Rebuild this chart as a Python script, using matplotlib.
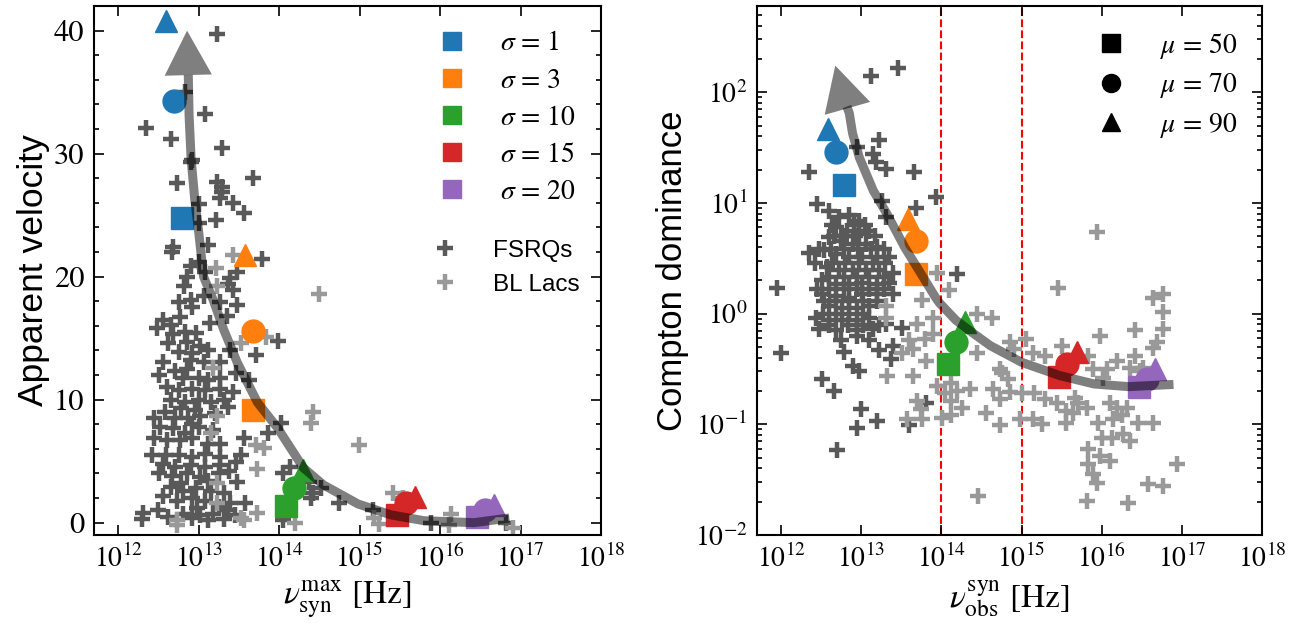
import numpy as np
import matplotlib
matplotlib.use("Agg")
from matplotlib import pyplot as plt
from matplotlib.lines import Line2D
from matplotlib.ticker import MultipleLocator, FixedLocator, NullLocator, LogFormatterSciNotation

plt.rcParams['font.family'] = 'serif'
plt.rcParams['font.serif'] = ['STIXGeneral', 'Liberation Serif', 'DejaVu Serif']
plt.rcParams['mathtext.fontset'] = 'stix'

# model points: log10(nu) for mu = 50 (square), 70 (circle), 90 (triangle), one per sigma
sigmas = [1, 3, 10, 15, 20]
sigma_colors = ['tab:blue', 'tab:orange', 'tab:green', 'tab:red', 'tab:purple']
mus = [50, 70, 90]
mu_markers = ['s', 'o', '^']

model_lognu = {
    50: [12.79, 13.68, 14.08, 15.47, 16.46],
    70: [12.69, 13.68, 14.18, 15.57, 16.56],
    90: [12.59, 13.58, 14.29, 15.69, 16.67],
}
model_vapp = {
    50: [24.8, 9.2, 1.36, 0.63, 0.44],
    70: [34.3, 15.6, 2.8, 1.63, 1.03],
    90: [40.8, 21.8, 4.3, 2.1, 1.44],
}
model_logcd = {
    50: [1.16, 0.36, -0.455, -0.576, -0.667],
    70: [1.46, 0.66, -0.26, -0.455, -0.59],
    90: [1.67, 0.857, -0.08, -0.35, -0.50],
}

# track of the model (tail -> head)
left_curve_lognu = [16.86, 16.42, 15.80, 15.39, 14.98, 14.55, 14.30, 13.98, 13.73, 13.48,
                    13.31, 13.18, 13.06, 13.00, 12.95, 12.905, 12.88, 12.87]
left_curve_v = [0.38, 0.0, 0.16, 0.63, 1.52, 3.07, 4.46, 7.7, 9.77, 13.0,
                15.7, 18.1, 20.0, 23.6, 26.3, 29.6, 33.1, 36.4]
left_tip = (12.855, 40.0)

right_curve_lognu = [16.895, 16.335, 15.905, 15.475, 15.0, 14.61, 14.40, 14.18, 13.97, 13.925,
                     13.54, 13.32, 13.15, 12.975, 12.89, 12.85, 12.82]
right_curve_logcd = [-0.64, -0.66, -0.636, -0.56, -0.44, -0.29, -0.18, -0.06, 0.10, 0.147,
                     0.60, 0.90, 1.11, 1.41, 1.63, 1.81, 1.87]
right_tip = (12.675, 2.24)

# observed sources, left panel (log10 nu_syn^max, apparent velocity)
fsrq_l_lognu = [13.23, 12.83, 13.08, 12.34, 12.65, 13.29, 12.92, 12.90, 13.68, 12.73,
                13.23, 13.29, 13.29, 13.27, 13.43, 13.56, 13.00, 13.21, 13.00, 12.68,
                12.67, 13.11, 13.79, 12.90, 12.86, 13.48, 13.39, 13.36, 13.43, 13.08,
                12.75, 12.90, 13.06, 13.27, 13.48, 12.92, 12.56, 12.77, 12.65, 12.83,
                12.96, 12.68, 12.62, 12.86, 13.02, 12.75, 12.92, 13.11, 13.39, 13.71,
                13.99, 12.55, 12.90, 13.06, 13.27, 12.81, 13.00, 13.11, 13.27, 13.46,
                13.62, 12.75, 12.92, 13.08, 13.27, 13.43, 12.65, 12.83, 13.00, 13.15,
                13.31, 13.36, 12.44, 12.71, 12.87, 13.02, 14.02, 13.86, 12.68, 12.83,
                13.00, 12.92, 12.44, 12.61, 12.77, 13.11, 13.27, 13.56, 12.42, 12.59,
                12.75, 12.92, 13.08, 13.27, 13.52, 12.55, 12.71, 12.90, 13.08, 13.27,
                13.46, 14.05, 12.67, 12.86, 13.02, 13.25, 13.48, 12.65, 12.80, 12.96,
                13.15, 13.31, 14.14, 14.42, 14.52, 14.37, 14.39, 12.73, 12.92, 13.08,
                13.39, 13.58, 12.31, 12.49, 12.30, 12.81, 13.02, 13.18, 13.36, 13.11,
                13.31, 14.05, 14.74, 15.16, 15.89, 16.82,
                12.50, 12.60, 12.70, 12.85, 12.58, 12.78, 12.95, 13.20, 12.52, 12.92,
                13.18, 12.50, 12.78, 13.12, 13.38, 12.55, 12.98, 13.25, 12.62, 12.92,
                13.45, 13.00, 12.82, 13.14, 13.35, 12.48]
fsrq_l_v = [39.7, 35.0, 33.2, 32.1, 31.2, 30.5, 29.5, 29.3, 28.0, 27.6,
            27.7, 27.3, 26.9, 26.4, 26.0, 25.2, 25.9, 24.6, 24.4, 22.4,
            22.0, 22.6, 21.4, 20.9, 20.0, 20.4, 19.9, 19.4, 18.9, 20.4,
            17.9, 18.1, 18.4, 17.9, 17.7, 17.5, 16.5, 16.7, 16.1, 15.5,
            15.4, 15.3, 14.6, 14.7, 14.4, 13.9, 13.8, 14.0, 14.0, 13.6,
            14.8, 13.1, 13.2, 13.1, 13.1, 11.8, 11.8, 11.6, 11.8, 12.2,
            11.6, 10.8, 10.9, 10.8, 10.9, 10.6, 10.0, 9.8, 10.0, 9.8,
            10.0, 9.4, 8.5, 8.5, 8.5, 8.7, 8.1, 7.3, 7.7, 7.3,
            7.8, 6.9, 6.9, 6.7, 6.7, 6.4, 6.4, 6.9, 5.5, 5.5,
            5.5, 5.3, 5.6, 5.3, 5.5, 4.8, 4.5, 4.7, 4.5, 4.7,
            4.9, 4.0, 3.8, 4.0, 3.7, 4.0, 3.3, 2.9, 2.6, 2.8,
            2.6, 2.4, 4.5, 2.4, 2.8, 3.3, 2.0, 1.8, 2.0, 1.8,
            1.6, 1.6, 0.8, 1.0, 0.3, 0.7, 0.6, 0.7, 1.0, 0.2,
            0.3, 0.2, 1.6, 1.0, 0.0, 0.0,
            12.0, 11.0, 12.3, 12.5, 9.0, 9.3, 9.2, 8.9, 7.8, 8.0,
            7.5, 4.0, 3.2, 3.4, 4.2, 2.2, 1.2, 1.3, 0.5, 0.4,
            0.6, 21.2, 19.2, 16.2, 16.8, 15.8]
bll_l_lognu = [13.42, 13.21, 13.23, 14.49, 13.83, 13.52, 13.18, 13.23, 14.42, 14.39,
               13.15, 13.71, 13.81, 14.99, 13.73, 13.23, 13.23, 13.52, 13.73, 12.73,
               13.56, 14.20, 12.73, 15.18, 15.24, 15.41, 15.54, 16.13, 16.11, 16.91]
bll_l_v = [21.8, 20.7, 19.2, 18.6, 15.1, 14.6, 12.6, 8.7, 9.0, 8.1,
           7.3, 6.3, 6.1, 6.3, 4.4, 3.2, 1.6, 0.4, 0.8, 0.2,
           0.2, 0.0, -0.2, 0.4, -0.1, 2.4, 2.0, 0.7, -0.2, -0.4]

# observed sources, right panel (log10 nu_obs^syn, log10 Compton dominance)
fsrq_r_lognu = [13.125, 13.46, 12.95, 13.14, 13.18, 13.31, 13.225, 12.35, 13.66, 13.93,
                12.45, 13.68, 13.26, 13.31, 14.19, 12.60, 12.725, 12.85, 12.975, 12.69,
                12.825, 12.975, 13.10, 12.60, 12.75, 12.89, 13.06, 13.19, 12.35, 12.54,
                12.69, 12.85, 13.01, 13.19, 13.35, 12.575, 12.725, 12.89, 13.06, 13.225,
                13.39, 12.51, 12.69, 12.85, 13.01, 13.19, 13.35, 12.51, 12.69, 12.85,
                13.01, 13.19, 13.39, 12.60, 12.76, 12.94, 13.10, 12.44, 12.60, 12.76,
                12.94, 13.10, 12.475, 12.69, 12.94, 13.14, 13.51, 11.95, 13.31, 12.75,
                12.94, 13.10, 13.225, 13.39, 12.79, 13.375, 12.89, 12.975, 12.0, 12.51,
                12.66, 13.0, 12.94, 13.2, 13.6, 13.81, 12.7,
                12.63, 12.91, 13.04, 12.66, 12.80, 12.92, 13.17, 12.47, 12.62, 12.78,
                12.96, 13.12, 13.28, 12.42, 12.64, 12.80, 12.97, 13.14, 13.30, 12.60,
                12.78, 12.94, 13.10, 13.28, 12.45, 12.60, 12.78, 12.94, 13.10, 13.28,
                12.54, 12.68, 12.85, 13.02, 13.19, 12.52, 12.68, 12.85, 13.02, 12.60,
                12.83, 13.02, 13.22]
fsrq_r_logcd = [2.145, 2.22, 1.505, 1.445, 1.37, 1.31, 1.565, 1.28, 1.28, 1.05,
                0.99, 0.95, 1.02, 0.87, 0.36, 0.93, 0.87, 0.89, 0.84, 0.78,
                0.75, 0.72, 0.75, 0.69, 0.66, 0.63, 0.63, 0.60, 0.55, 0.57,
                0.54, 0.51, 0.51, 0.51, 0.51, 0.42, 0.39, 0.39, 0.39, 0.39,
                0.37, 0.30, 0.27, 0.27, 0.28, 0.27, 0.28, 0.18, 0.16, 0.145,
                0.18, 0.18, 0.18, 0.07, 0.05, 0.05, 0.07, -0.04, -0.06, -0.06,
                -0.06, -0.04, -0.14, -0.15, -0.15, -0.14, -0.13, 0.235, -0.09, -0.24,
                -0.20, -0.24, -0.33, -0.29, -0.35, -0.41, -0.47, -0.52, -0.36, -0.59,
                -0.70, -0.86, -1.03, -0.97, -1.01, -0.81, -1.23,
                0.80, 0.80, 0.80, 0.70, 0.70, 0.70, 0.70, 0.58, 0.58, 0.58,
                0.58, 0.58, 0.58, 0.46, 0.46, 0.46, 0.46, 0.46, 0.46, 0.33,
                0.33, 0.33, 0.33, 0.33, 0.22, 0.22, 0.22, 0.22, 0.22, 0.22,
                0.11, 0.11, 0.11, 0.11, 0.11, 0.0, 0.0, 0.0, 0.0, -0.10,
                -0.10, -0.10, -0.10]
bll_r_lognu = [13.94, 14.10, 13.76, 13.89, 14.44, 14.625, 13.31, 13.31, 13.69, 13.325,
               13.64, 13.81, 13.51, 13.64, 13.60, 13.70, 13.75, 13.575, 13.76, 13.94,
               14.125, 14.04, 14.20, 14.35, 14.125, 14.26, 14.125, 14.01, 14.44, 14.725,
               14.64, 14.725, 14.56, 14.725, 13.79, 13.89, 14.45, 15.94, 15.45, 16.64,
               16.76, 16.76, 16.76, 16.41, 15.975, 15.06, 14.85, 14.91, 15.50, 16.69,
               16.64, 15.14, 15.29, 16.41, 15.825, 14.76, 14.825, 16.19, 16.06, 15.89,
               16.35, 16.475, 16.51, 16.01, 14.85, 15.01, 15.16, 15.29, 15.44, 15.66,
               15.70, 15.81, 15.56, 15.64, 16.10, 16.19, 16.31, 14.975, 15.14, 15.25,
               15.56, 15.95, 16.14, 16.25, 16.45, 16.64, 16.00, 16.125, 16.26, 16.35,
               15.825, 15.975, 16.10, 15.825, 15.89, 15.94, 16.94, 16.575, 16.76, 15.81,
               16.325]
bll_r_logcd = [0.37, 0.21, 0.12, -0.04, 0.0, -0.04, 0.07, -0.04, -0.09, -0.56,
               -0.56, -0.43, -0.36, -0.32, -0.24, -0.79, -0.86, -0.95, -0.95, -0.65,
               -0.63, -0.72, -0.70, -0.68, -0.79, -0.85, -0.92, -0.94, -0.36, -0.50,
               -0.68, -0.77, -0.90, -1.01, -0.23, -0.18, -1.65, 0.74, 0.235, 0.145,
               0.18, 0.01, -0.135, -0.15, -0.20, -0.23, -0.26, -0.32, -0.29, -0.26,
               -0.31, -0.36, -0.38, -0.38, -0.38, -0.54, -0.59, -0.43, -0.50, -0.50,
               -0.49, -0.52, -0.49, -0.58, -0.71, -0.72, -0.72, -0.77, -0.81, -0.76,
               -0.81, -0.85, -0.88, -0.90, -0.81, -0.85, -0.85, -0.95, -0.95, -0.995,
               -0.99, -0.99, -0.95, -0.92, -0.99, -0.99, -1.12, -1.12, -1.09, -1.15,
               -1.22, -1.29, -1.33, -1.36, -1.45, -1.53, -1.36, -1.54, -1.56, -1.69,
               -1.71]

decades = [1e12, 1e13, 1e14, 1e15, 1e16, 1e17, 1e18]

fsrq_color = '0.35'
bll_color = '0.6'
cross = dict(marker='+', ls='none', ms=11, mew=3.2)

fig = plt.figure(figsize=(13.1, 6.23), dpi=100)
ax1 = fig.add_axes([0.0718, 0.1413, 0.387, 0.849])
ax2 = fig.add_axes([0.5779, 0.1413, 0.3855, 0.849])


def draw_track(ax, lognu, yvals, tip, logy=False):
    x = 10 ** np.array(lognu)
    y = 10 ** np.array(yvals) if logy else np.array(yvals)
    ax.plot(x, y, c='k', alpha=0.5, lw=6.5, solid_capstyle='butt', zorder=5)
    tx = 10 ** tip[0]
    ty = 10 ** tip[1] if logy else tip[1]
    ax.annotate('', xy=(tx, ty), xytext=(x[-1], y[-1]),
                arrowprops=dict(arrowstyle='-|>,head_length=1.6,head_width=0.85',
                                mutation_scale=20, color='k', alpha=0.5, lw=0,
                                shrinkA=0, shrinkB=0), zorder=5)


# left panel
ax1.plot(10 ** np.array(fsrq_l_lognu), fsrq_l_v, c=fsrq_color, zorder=2, **cross)
ax1.plot(10 ** np.array(bll_l_lognu), bll_l_v, c=bll_color, zorder=2, **cross)
for mu, mk in zip(mus, mu_markers):
    for i, col in enumerate(sigma_colors):
        ax1.plot(10 ** model_lognu[mu][i], model_vapp[mu][i], marker=mk, c=col,
                 ms=16.5, ls='none', zorder=3)
draw_track(ax1, left_curve_lognu, left_curve_v, left_tip)

# right panel
ax2.plot(10 ** np.array(fsrq_r_lognu), 10 ** np.array(fsrq_r_logcd), c=fsrq_color, zorder=2, **cross)
ax2.plot(10 ** np.array(bll_r_lognu), 10 ** np.array(bll_r_logcd), c=bll_color, zorder=2, **cross)
for mu, mk in zip(mus, mu_markers):
    for i, col in enumerate(sigma_colors):
        ax2.plot(10 ** model_lognu[mu][i], 10 ** model_logcd[mu][i], marker=mk, c=col,
                 ms=16.5, ls='none', zorder=3)
draw_track(ax2, right_curve_lognu, right_curve_logcd, right_tip, logy=True)
ax2.axvline(1e14, c='red', ls='--', lw=1.5, zorder=1)
ax2.axvline(1e15, c='red', ls='--', lw=1.5, zorder=1)

for ax in (ax1, ax2):
    ax.set_xscale('log')
    ax.set_xlim(5e11, 1e18)
    ax.xaxis.set_major_locator(FixedLocator(decades))
    ax.xaxis.set_major_formatter(LogFormatterSciNotation())
    ax.xaxis.set_minor_locator(NullLocator())
    ax.tick_params(which='both', direction='in', top=True, right=True, labelsize=20, width=1.2)
    ax.tick_params(which='major', length=7, pad=7)
    ax.tick_params(which='minor', length=3.5)
    for s in ax.spines.values():
        s.set_linewidth(1.5)

ax1.set_ylim(-1, 42)
ax1.yaxis.set_major_locator(MultipleLocator(10))
ax1.yaxis.set_minor_locator(MultipleLocator(2))
ax1.tick_params(axis='y', labelsize=22)
ax2.set_yscale('log')
ax2.set_ylim(1e-2, 6e2)
ax2.yaxis.set_major_locator(FixedLocator([1e-2, 1e-1, 1e0, 1e1, 1e2]))

ax1.set_xlabel(r'$\nu_{\rm syn}^{\rm max}$ [Hz]', fontsize=24)
ax2.set_xlabel(r'$\nu_{\rm obs}^{\rm syn}$ [Hz]', fontsize=24)
ax1.set_ylabel('Apparent velocity', fontsize=25.5, family='Liberation Sans', labelpad=3)
ax2.set_ylabel('Compton dominance', fontsize=25, family='Liberation Sans')

# legends
sig_handles = [Line2D([], [], marker='s', ls='none', c=col, ms=13) for col in sigma_colors]
sig_labels = [r'$\sigma$ = %d' % s for s in sigmas]
leg1 = ax1.legend(sig_handles, sig_labels, loc='upper right', frameon=False, fontsize=20,
                  handletextpad=0.75, labelspacing=0.42)
ax1.add_artist(leg1)
src_handles = [Line2D([], [], c=fsrq_color, **cross), Line2D([], [], c=bll_color, **cross)]
ax1.legend(src_handles, ['FSRQs', 'BL Lacs'], loc='upper right', bbox_to_anchor=(1.0, 0.60),
           frameon=False, prop={'family': 'Liberation Sans', 'size': 17.5},
           handletextpad=0.97, labelspacing=0.5)

mu_handles = [Line2D([], [], marker=mk, ls='none', c='k', ms=13) for mk in mu_markers]
mu_labels = [r'$\mu$ = %d' % m for m in mus]
ax2.legend(mu_handles, mu_labels, loc='upper right', frameon=False, fontsize=20,
           handletextpad=0.75, labelspacing=0.37)

fig.savefig('out.png', dpi=100)
